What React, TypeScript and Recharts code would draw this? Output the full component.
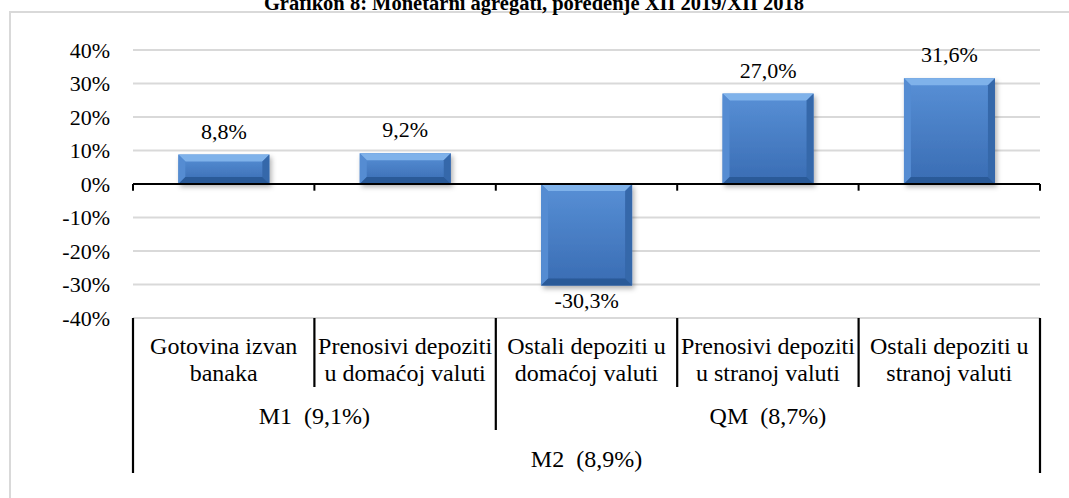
import React from 'react';
import { BarChart, Bar, XAxis, YAxis, CartesianGrid, ReferenceLine, LabelList } from 'recharts';

const title = 'Grafikon 8: Monetarni agregati, poređenje XII 2019/XII 2018';
const categories = [
  'Gotovina izvan\nbanaka',
  'Prenosivi depoziti\nu domaćoj valuti',
  'Ostali depoziti u\ndomaćoj valuti',
  'Prenosivi depoziti\nu stranoj valuti',
  'Ostali depoziti u\nstranoj valuti',
];
const values = [8.8, 9.2, -30.3, 27.0, 31.6];
const yTicks = [-40, -30, -20, -10, 0, 10, 20, 30, 40];
const level2Groups = [
  { label: 'M1  (9,1%)', start: 0, end: 1 },
  { label: 'QM  (8,7%)', start: 2, end: 4 },
];
const level3Groups = [{ label: 'M2  (8,9%)', start: 0, end: 4 }];

const data = categories.map((name, i) => ({ name, value: values[i] }));

const FONT = '"Liberation Serif", "Times New Roman", serif';
const FS = 22;
const CAT_FS = 24;

const fmtPct = (v: number) => v.toFixed(1).replace('.', ',') + '%';

const isBoundary = (groups: { start: number; end: number }[], b: number) =>
  groups.some((g) => g.start === b || g.end + 1 === b);

const boundaryDepth = (b: number) => {
  if (isBoundary(level3Groups, b)) return 155;
  if (isBoundary(level2Groups, b)) return 112;
  return 69;
};

const CategoryTick = (props: any) => {
  const { x, y, payload, index } = props;
  const half = payload && payload.offset != null ? payload.offset : 0;
  const band = half * 2;
  const n = categories.length;
  const lines = String(payload.value).split('\n');
  const left = x - half;
  const els: any[] = [];
  els.push(
    <line key="bl" x1={left} x2={left} y1={y} y2={y + boundaryDepth(index)} stroke="#000" strokeWidth={2.2} />
  );
  if (index === n - 1) {
    els.push(
      <line key="br" x1={x + half} x2={x + half} y1={y} y2={y + boundaryDepth(n)} stroke="#000" strokeWidth={2.2} />
    );
  }
  lines.forEach((ln, i) => {
    els.push(
      <text key={'l' + i} x={x} y={y + 36 + i * 27} textAnchor="middle" fontFamily={FONT} fontSize={CAT_FS} fill="#000">
        {ln}
      </text>
    );
  });
  level2Groups.forEach((g, gi) => {
    if (g.start === index) {
      const cx = left + ((g.end - g.start + 1) * band) / 2;
      els.push(
        <text key={'g2' + gi} x={cx} y={y + 106} textAnchor="middle" fontFamily={FONT} fontSize={CAT_FS} fill="#000" style={{ whiteSpace: 'pre' }}>
          {g.label}
        </text>
      );
    }
  });
  level3Groups.forEach((g, gi) => {
    if (g.start === index) {
      const cx = left + ((g.end - g.start + 1) * band) / 2;
      els.push(
        <text key={'g3' + gi} x={cx} y={y + 149} textAnchor="middle" fontFamily={FONT} fontSize={CAT_FS} fill="#000" style={{ whiteSpace: 'pre' }}>
          {g.label}
        </text>
      );
    }
  });
  return <g>{els}</g>;
};

const BevelBar = (props: any) => {
  const { x, y, width, height } = props;
  if (width == null || height == null) return null;
  const t = Math.min(y, y + height);
  const h = Math.abs(height);
  const w = width;
  const b = Math.min(7, h / 2, w / 2);
  return (
    <g filter="url(#barShadow)">
      <rect x={x} y={t} width={w} height={h} fill="url(#faceGrad)" />
      <polygon points={`${x},${t} ${x + w},${t} ${x + w - b},${t + b} ${x + b},${t + b}`} fill="#7fb2ea" />
      <polygon points={`${x},${t} ${x + b},${t + b} ${x + b},${t + h - b} ${x},${t + h}`} fill="#548cd2" />
      <polygon points={`${x + w},${t} ${x + w - b},${t + b} ${x + w - b},${t + h - b} ${x + w},${t + h}`} fill="#3667aa" />
      <polygon points={`${x},${t + h} ${x + w},${t + h} ${x + w - b},${t + h - b} ${x + b},${t + h - b}`} fill="#2b5a98" />
    </g>
  );
};

const renderValueLabel = (props: any) => {
  const { x, y, width, height, value } = props;
  const top = Math.min(y, y + height);
  const bottom = Math.max(y, y + height);
  const cx = x + width / 2;
  const ty = value >= 0 ? top - 16 : bottom + 22;
  return (
    <text x={cx} y={ty} textAnchor="middle" fontFamily={FONT} fontSize={FS} fill="#000">
      {fmtPct(value)}
    </text>
  );
};

export default function App() {
  return (
    <div style={{ position: 'absolute', left: 0, top: 0, width: 1069, height: 498, background: '#fff', overflow: 'hidden' }}>
      <div
        style={{
          position: 'absolute',
          left: 9,
          top: 11,
          width: 1100,
          height: 600,
          borderLeft: '2px solid #d9d9d9',
          borderTop: '2px solid #d9d9d9',
        }}
      />
      <svg width={1069} height={30} style={{ position: 'absolute', left: 0, top: 0 }}>
        <text x={534} y={10} textAnchor="middle" fontFamily={FONT} fontSize={20.5} fontWeight="bold" fill="#000">
          {title}
        </text>
      </svg>
      <div style={{ position: 'absolute', left: 0, top: 0 }}>
        <BarChart
          width={1069}
          height={498}
          data={data}
          margin={{ top: 50, right: 29, bottom: 0, left: 0 }}
          barCategoryGap="25%"
        >
          <defs>
            <linearGradient id="faceGrad" x1="0" y1="0" x2="0" y2="1">
              <stop offset="0%" stopColor="#5890d6" />
              <stop offset="100%" stopColor="#396cb3" />
            </linearGradient>
            <filter id="barShadow" x="-20%" y="-20%" width="150%" height="150%">
              <feDropShadow dx="2" dy="3" stdDeviation="2.5" floodColor="#000" floodOpacity="0.3" />
            </filter>
          </defs>
          <CartesianGrid vertical={false} stroke="#d9d9d9" strokeWidth={2} />
          <XAxis
            dataKey="name"
            interval={0}
            height={180}
            tickLine={false}
            axisLine={false}
            tickSize={0}
            tickMargin={0}
            tick={<CategoryTick />}
          />
          <YAxis
            domain={[-40, 40]}
            ticks={yTicks}
            width={133}
            tickLine={false}
            axisLine={false}
            tickSize={0}
            tickMargin={23}
            tickFormatter={(v: number) => `${v}%`}
            tick={{ fontFamily: FONT, fontSize: FS, fill: '#000' }}
          />
          <Bar dataKey="value" isAnimationActive={false} shape={<BevelBar />}>
            <LabelList dataKey="value" content={renderValueLabel} />
          </Bar>
          <ReferenceLine y={0} stroke="#000" strokeWidth={2} />
          {categories.map((c) => (
            <ReferenceLine
              key={'t' + c}
              segment={[{ x: c, y: 0 }, { x: c, y: -2 }]}
              position="start"
              stroke="#000"
              strokeWidth={2}
            />
          ))}
          <ReferenceLine
            segment={[{ x: categories[categories.length - 1], y: 0 }, { x: categories[categories.length - 1], y: -2 }]}
            position="end"
            stroke="#000"
            strokeWidth={2}
          />
        </BarChart>
      </div>
    </div>
  );
}
